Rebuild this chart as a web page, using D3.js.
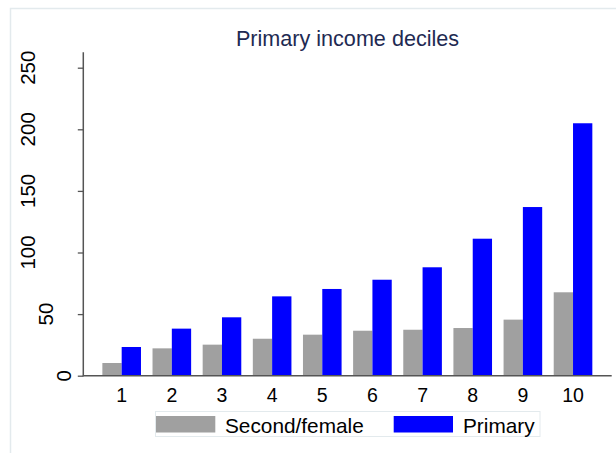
<!DOCTYPE html>
<html>
<head>
<meta charset="utf-8">
<script src="https://cdn.jsdelivr.net/npm/d3@7"></script>
<style>
  html, body { margin: 0; padding: 0; background: #fff; }
  svg { display: block; font-family: "Liberation Sans", Arial, Helvetica, sans-serif; }
</style>
</head>
<body>
<div id="chart"></div>
<script>
// ---- data ----
const categories = ["1","2","3","4","5","6","7","8","9","10"];
const seriesNames = ["Second/female", "Primary"];
const secondFemale = [10.3, 22.2, 25.2, 30.0, 33.3, 36.5, 37.3, 38.7, 45.5, 67.7];
const primary = [23.3, 38.2, 47.4, 64.4, 70.4, 77.9, 88.0, 111.2, 136.9, 204.9];
const yTicks = [0, 50, 100, 150, 200, 250];
const title = "Primary income deciles";

const colors = ["#a0a0a0", "#0000ff"];
const W = 616, H = 453;

const svg = d3.select("#chart").append("svg")
  .attr("width", W).attr("height", H);

// outer (cropped) frame
svg.append("rect")
  .attr("x", 10.5).attr("y", 8.5)
  .attr("width", 700).attr("height", 600)
  .attr("fill", "none")
  .attr("stroke", "#e3eaed")
  .attr("stroke-width", 1.5);

const plotLeft = 83.3, plotRight = 611.7;
const y = d3.scaleLinear().domain([0, 262.5]).range([375.7, 52.3]);

const x = d3.scaleBand().domain(categories)
  .range([96.6, 598.1]).paddingInner(0.23).paddingOuter(0.115);
const xs = d3.scaleBand().domain(seriesNames).range([0, x.bandwidth()]);

const rows = categories.map((c, i) => ({ c, vals: [secondFemale[i], primary[i]] }));

// bars
const g = svg.append("g");
rows.forEach(r => {
  r.vals.forEach((v, j) => {
    g.append("rect")
      .attr("x", x(r.c) + xs(seriesNames[j]))
      .attr("y", y(v))
      .attr("width", xs.bandwidth())
      .attr("height", y(0) - y(v))
      .attr("fill", colors[j]);
  });
});

// y axis
const yAxis = d3.axisLeft(y).tickValues(yTicks).tickSize(5.5).tickFormat(d3.format("d"));
const ya = svg.append("g").attr("transform", `translate(${plotLeft},0)`).call(yAxis);
ya.select(".domain").remove();
ya.selectAll(".tick line").attr("stroke", "#555").attr("stroke-width", 1.3);
ya.selectAll(".tick text").remove();
svg.append("line")
  .attr("x1", plotLeft).attr("x2", plotLeft)
  .attr("y1", y.range()[1]).attr("y2", y(0) + 0.5)
  .attr("stroke", "#555").attr("stroke-width", 1.5);

// rotated y tick labels (offset depends on label length, as in the original)
yTicks.forEach(t => {
  const s = String(t);
  const cx = 81.5 - 18 * s.length;
  svg.append("text")
    .attr("transform", `translate(${cx + 7},${y(t)}) rotate(-90)`)
    .attr("text-anchor", "middle")
    .attr("font-size", 20.5)
    .attr("fill", "#000")
    .text(s);
});

// x axis line
svg.append("line")
  .attr("x1", plotLeft - 0.5).attr("x2", plotRight)
  .attr("y1", y(0)).attr("y2", y(0))
  .attr("stroke", "#555").attr("stroke-width", 1.5);

// x tick labels
const xa = svg.append("g").attr("transform", `translate(0,${y(0)})`)
  .call(d3.axisBottom(x).tickSize(0).tickPadding(0));
xa.select(".domain").remove();
xa.selectAll(".tick text")
  .attr("dy", null)
  .attr("y", 26)
  .attr("font-size", 19.5)
  .attr("font-family", "'Liberation Sans', Arial, sans-serif")
  .attr("fill", "#000");

// title
svg.append("text")
  .attr("x", 347.5).attr("y", 46)
  .attr("text-anchor", "middle")
  .attr("font-size", 21.6)
  .attr("fill", "#1e2a52")
  .text(title);

// legend
const lg = svg.append("g");
lg.append("rect")
  .attr("x", 155.5).attr("y", 411.5)
  .attr("width", 384.5).attr("height", 25)
  .attr("fill", "#fff").attr("stroke", "#e3eaed").attr("stroke-width", 1);
const legendItems = [
  { name: seriesNames[0], sx: 156, tx: 225 },
  { name: seriesNames[1], sx: 393.7, tx: 463 }
];
legendItems.forEach((it, j) => {
  lg.append("rect")
    .attr("x", it.sx).attr("y", 416)
    .attr("width", 59.3).attr("height", 16.5)
    .attr("fill", colors[j]);
  lg.append("text")
    .attr("x", it.tx).attr("y", 432.5)
    .attr("font-size", 20.8)
    .attr("fill", "#000")
    .text(it.name);
});
</script>
</body>
</html>
